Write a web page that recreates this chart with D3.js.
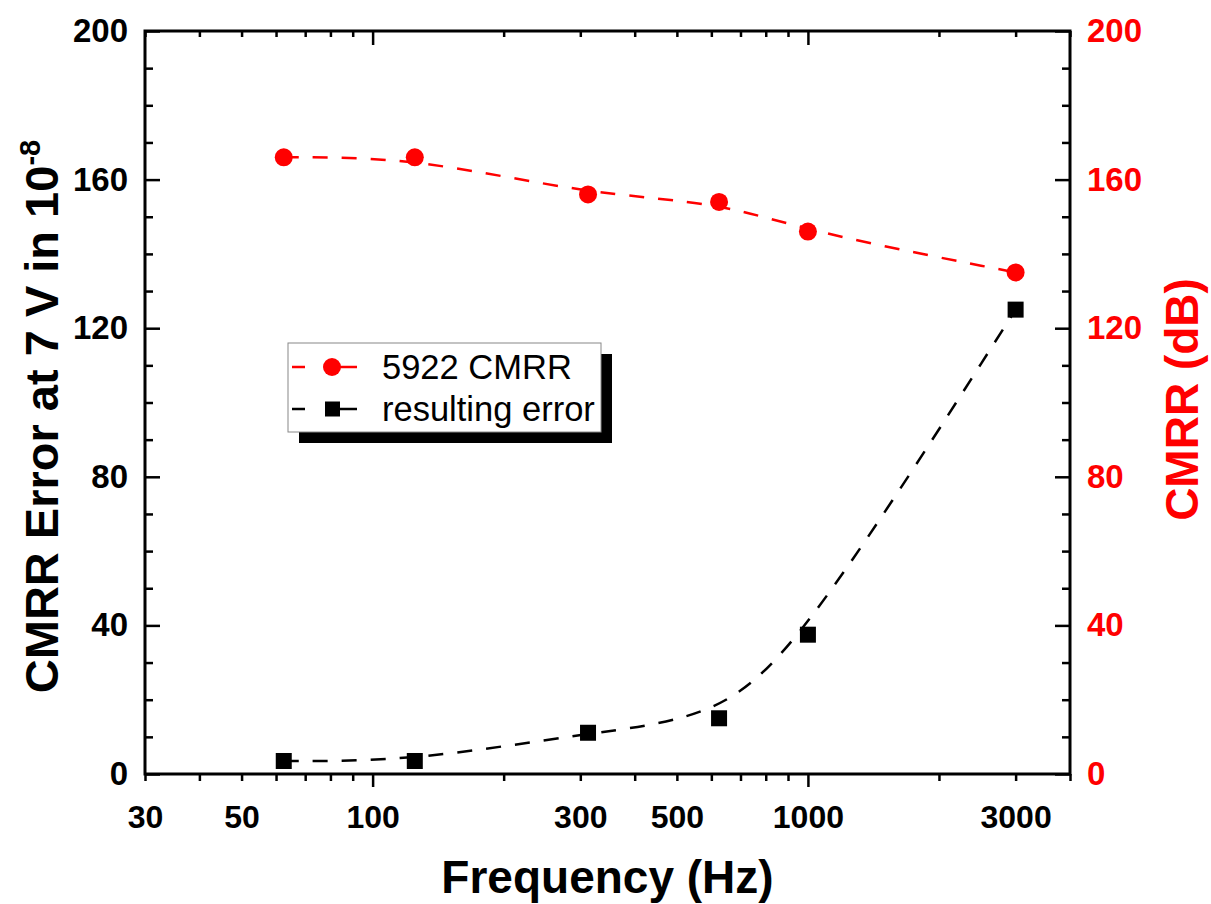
<!DOCTYPE html>
<html><head><meta charset="utf-8">
<script src="https://cdn.jsdelivr.net/npm/d3@7"></script>
<style>
html,body{margin:0;padding:0;background:#fff;}
svg{display:block;font-family:"Liberation Sans",Arial,sans-serif;}
</style></head>
<body>
<svg id="chart" width="1211" height="904"></svg>
<script>
// ---- data ----
const frequencies = [62.5, 125, 312.5, 625, 1000, 3000];
const cmrrDb = [166, 166, 156, 154, 146, 135];
const resultingError = [3.5, 3.5, 11.1, 15, 37.5, 125];
const xTickLabels = [30, 50, 100, 300, 500, 1000, 3000];
const yTickLabels = [0, 40, 80, 120, 160, 200];
const seriesNames = ["5922 CMRR", "resulting error"];

// ---- layout ----
const svg = d3.select("#chart");
const L = 145, R = 1070, T = 31, B = 774;
const x = d3.scaleLog().domain([30, 4000]).range([L, R]);
const y = d3.scaleLinear().domain([0, 200]).range([B, T]);
const yR = d3.scaleLinear().domain([0, 200]).range([B, T]);

const isDecade = d => Math.abs(Math.log10(d) - Math.round(Math.log10(d))) < 1e-9;
const allX = x.ticks();
const minorX = allX.filter(d => !isDecade(d));
const majorX = allX.filter(d => isDecade(d));
const minorY = y.ticks(20).filter(d => !yTickLabels.includes(d));

function styleTicks(g, w) {
  g.select(".domain").remove();
  g.selectAll(".tick line").attr("stroke", "#000").attr("stroke-width", w);
}

// bottom axis (outward ticks)
const gb = svg.append("g").attr("transform", `translate(0,${B})`);
gb.append("g").call(d3.axisBottom(x).tickValues(minorX).tickSize(7).tickFormat("")).call(styleTicks, 2.5);
gb.append("g").call(d3.axisBottom(x).tickValues(majorX).tickSize(13).tickFormat("")).call(styleTicks, 2.5);
const gbl = gb.append("g").call(d3.axisBottom(x).tickValues(xTickLabels).tickSize(0).tickPadding(31).tickFormat(d3.format("d")));
gbl.select(".domain").remove();
gbl.selectAll("text").attr("font-size", 32).attr("font-weight", "bold").attr("fill", "#000")
  .attr("font-family", "Liberation Sans, Arial, sans-serif");

// top axis (inward ticks)
const gt = svg.append("g").attr("transform", `translate(0,${T})`);
gt.append("g").call(d3.axisTop(x).tickValues(minorX).tickSize(-6).tickFormat("")).call(styleTicks, 2.5);
gt.append("g").call(d3.axisTop(x).tickValues(majorX).tickSize(-14).tickFormat("")).call(styleTicks, 2.5);

// left axis (inward ticks)
const gl = svg.append("g").attr("transform", `translate(${L},0)`);
gl.append("g").call(d3.axisLeft(y).tickValues(minorY).tickSize(-8).tickFormat("")).call(styleTicks, 2.5);
gl.append("g").call(d3.axisLeft(y).tickValues(yTickLabels).tickSize(-15).tickFormat("")).call(styleTicks, 2.5);
const gll = gl.append("g").call(d3.axisLeft(y).tickValues(yTickLabels).tickSize(0).tickPadding(17).tickFormat(d3.format("d")));
gll.select(".domain").remove();
gll.selectAll("text").attr("font-size", 33).attr("font-weight", "bold").attr("fill", "#000")
  .attr("font-family", "Liberation Sans, Arial, sans-serif");

// right axis (inward ticks, red labels)
const gr = svg.append("g").attr("transform", `translate(${R},0)`);
gr.append("g").call(d3.axisRight(yR).tickValues(minorY).tickSize(-8).tickFormat("")).call(styleTicks, 2.5);
gr.append("g").call(d3.axisRight(yR).tickValues(yTickLabels).tickSize(-15).tickFormat("")).call(styleTicks, 2.5);
const grl = gr.append("g").call(d3.axisRight(yR).tickValues(yTickLabels).tickSize(0).tickPadding(17).tickFormat(d3.format("d")));
grl.select(".domain").remove();
grl.selectAll("text").attr("font-size", 33).attr("font-weight", "bold").attr("fill", "#ff0000")
  .attr("font-family", "Liberation Sans, Arial, sans-serif");

// frame
svg.append("rect").attr("x", L).attr("y", T).attr("width", R - L).attr("height", B - T)
  .attr("fill", "none").attr("stroke", "#000").attr("stroke-width", 3);

// series
const redData = frequencies.map((f, i) => [f, cmrrDb[i]]);
const blackData = frequencies.map((f, i) => [f, resultingError[i]]);
const lineL = d3.line().x(d => x(d[0])).y(d => y(d[1])).curve(d3.curveBasis);
const lineR = d3.line().x(d => x(d[0])).y(d => yR(d[1])).curve(d3.curveBasis);

svg.append("path").attr("d", lineR(redData)).attr("fill", "none").attr("stroke", "#ff0000")
  .attr("stroke-width", 2.5).attr("stroke-dasharray", "15,14");
svg.append("path").attr("d", lineL(blackData)).attr("fill", "none").attr("stroke", "#000")
  .attr("stroke-width", 2.5).attr("stroke-dasharray", "15,14");

svg.selectAll("circle.pt").data(redData).enter().append("circle").attr("class", "pt")
  .attr("cx", d => x(d[0])).attr("cy", d => yR(d[1])).attr("r", 9).attr("fill", "#ff0000");
svg.selectAll("rect.pt").data(blackData).enter().append("rect").attr("class", "pt")
  .attr("x", d => x(d[0]) - 8).attr("y", d => y(d[1]) - 8).attr("width", 16).attr("height", 16).attr("fill", "#000");

// legend
const lg = svg.append("g");
lg.append("rect").attr("x", 299).attr("y", 354).attr("width", 313).attr("height", 89).attr("fill", "#000");
lg.append("rect").attr("x", 288).attr("y", 343).attr("width", 313).attr("height", 89)
  .attr("fill", "#fff").attr("stroke", "#888").attr("stroke-width", 1);
const rows = [
  {name: seriesNames[0], color: "#ff0000", shape: "circle", y: 367},
  {name: seriesNames[1], color: "#000", shape: "square", y: 409}
];
rows.forEach(r => {
  lg.append("line").attr("x1", 292).attr("x2", 305).attr("y1", r.y).attr("y2", r.y).attr("stroke", r.color).attr("stroke-width", 2.5);
  lg.append("line").attr("x1", 340).attr("x2", 357).attr("y1", r.y).attr("y2", r.y).attr("stroke", r.color).attr("stroke-width", 2.5);
  if (r.shape === "circle") lg.append("circle").attr("cx", 332).attr("cy", r.y).attr("r", 9).attr("fill", r.color);
  else lg.append("rect").attr("x", 325).attr("y", r.y - 7.5).attr("width", 15).attr("height", 15).attr("fill", r.color);
  lg.append("text").attr("x", 382).attr("y", r.y + 12).attr("font-size", 34.5).attr("fill", "#000").text(r.name);
});

// axis titles
svg.append("text").attr("x", (L + R) / 2).attr("y", 893).attr("text-anchor", "middle")
  .attr("font-size", 46).attr("font-weight", "bold").text("Frequency (Hz)");

const lt = svg.append("text").attr("transform", `translate(58,${(T + B) / 2 + 14}) rotate(-90)`)
  .attr("text-anchor", "middle").attr("font-size", 47).attr("font-weight", "bold");
lt.append("tspan").text("CMRR Error at 7 V in 10");
lt.append("tspan").attr("dy", -18).attr("font-size", 29).text("-8");

svg.append("text").attr("transform", `translate(1198,${(T + B) / 2 - 3}) rotate(-90)`)
  .attr("text-anchor", "middle").attr("font-size", 46).attr("font-weight", "bold").attr("fill", "#ff0000")
  .text("CMRR (dB)");
</script>
</body></html>
